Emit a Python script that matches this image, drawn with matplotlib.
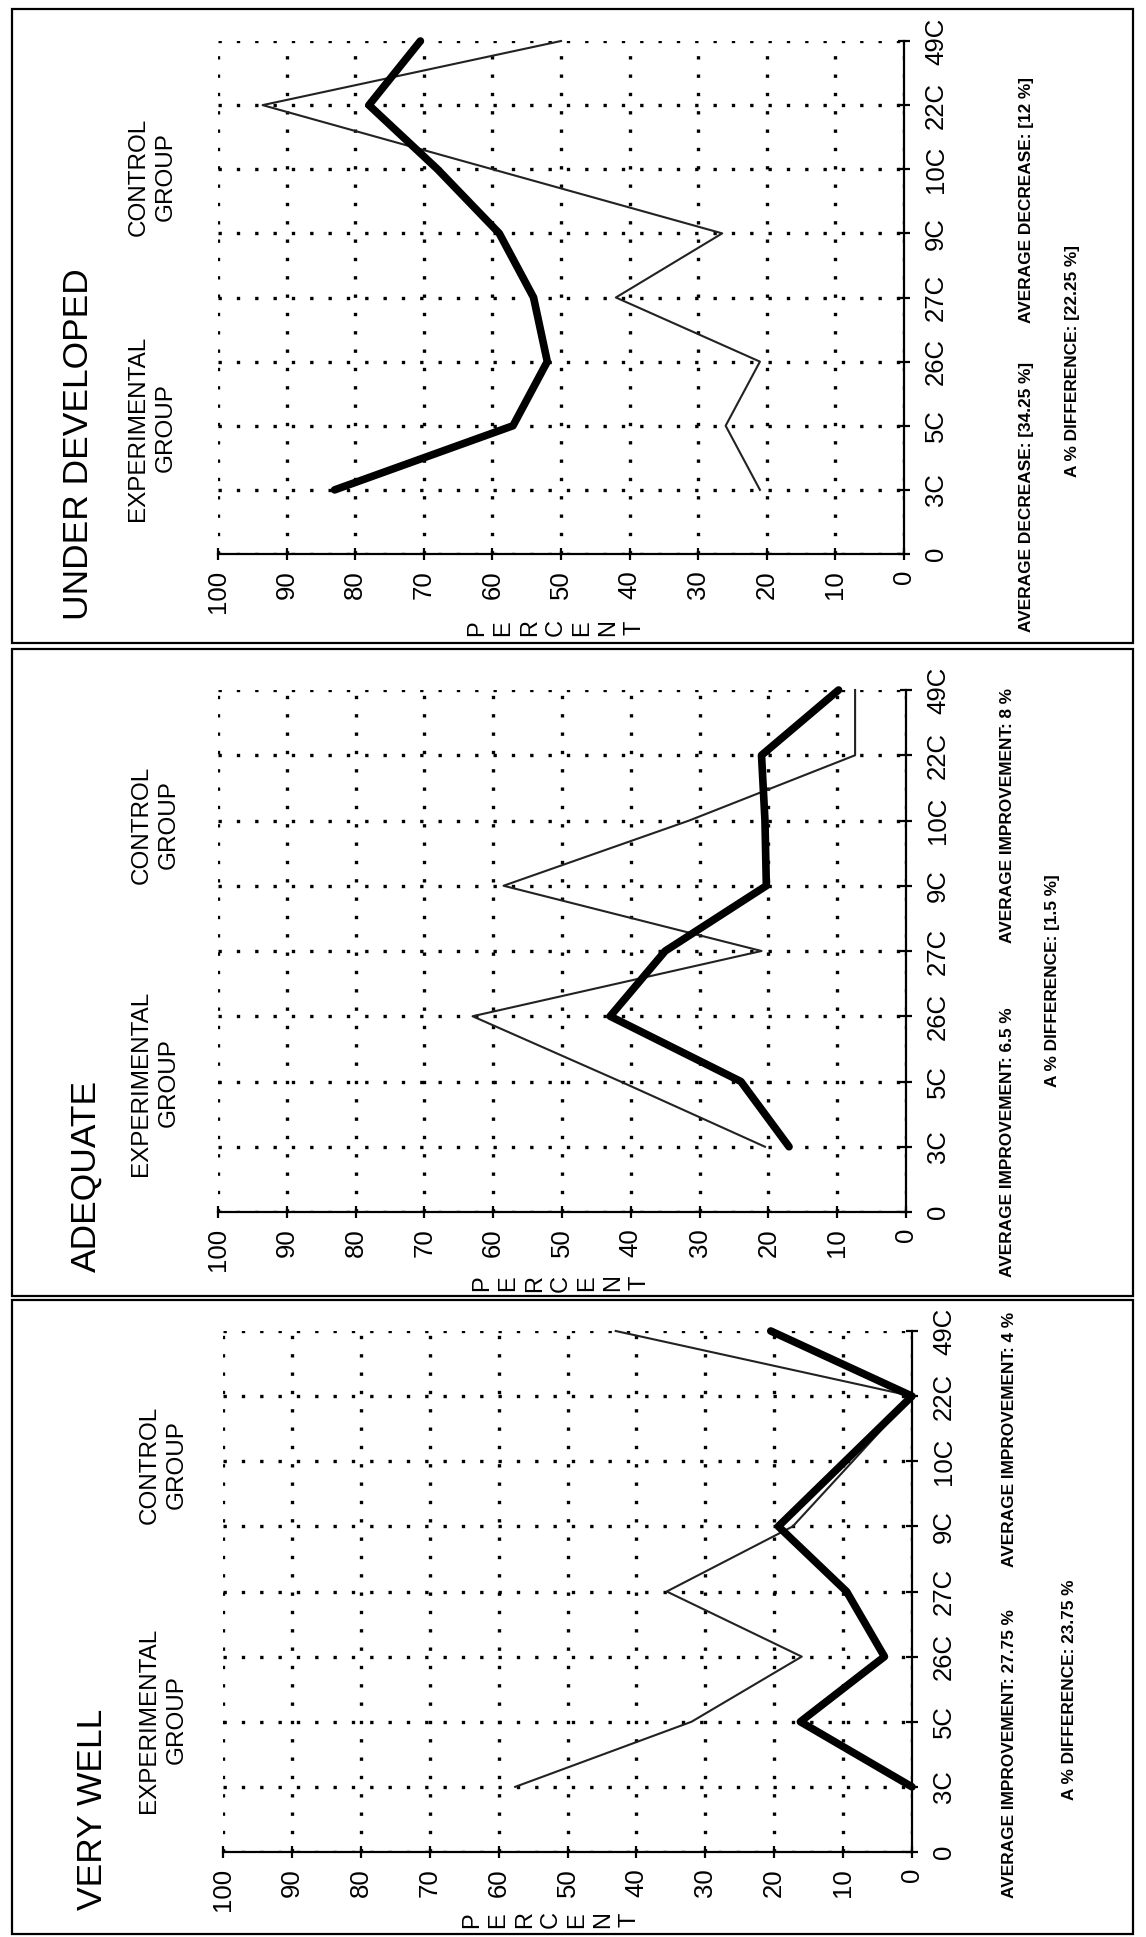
import matplotlib
matplotlib.use("Agg")
import matplotlib.pyplot as plt
from matplotlib.patches import Rectangle

W, H = 1146, 1937

# category rows (bottom to top), the "0" row is the axis itself
categories = ['3C', '5C', '26C', '27C', '9C', '10C', '22C', '49C']
percent_ticks = [0, 10, 20, 30, 40, 50, 60, 70, 80, 90, 100]

# values (percent)
under_thick = [83, 57, 52, 54, 59, 68, 78, 70.5]
under_thin = [21, 26, 21, 42, 26.5, 60, 93.5, 50]

adequate_thick = [17, 24, 43, 35, 20.3, 20.5, 21, 9.8]
adequate_thin = [20.5, 41.5, 63, 21, 58.5, 31.5, 7.4, 7.4]

verywell_thick = [0, 16.2, 4, 9.5, 19.4, 9.7, 0, 20.5]
verywell_thin = [57.6, 32, 16, 35.6, 17.3, 8.6, 0, 43]

SANS = ['Liberation Sans', 'DejaVu Sans']


def fx(x):
    return x / W


def fy(y):
    return 1 - y / H


fig = plt.figure(figsize=(W / 100, H / 100), dpi=100)
fig.patch.set_facecolor('white')

panels = [
    # frame (x0, y0, x1, y1), axes (x100, x0, ytop, ybottom)
    dict(frame=(12, 9, 1133, 643), axes=(218, 904, 41, 554),
         thick=under_thick, thin=under_thin,
         title='UNDER DEVELOPED', title_pos=(79, 620),
         exp_pos=(152, 428), ctl_pos=(152, 177), pct_pos=(556, 628),
         notes=[('AVERAGE DECREASE: [34.25 %]', 1027, 632),
                ('AVERAGE DECREASE: [12 %]', 1027, 323),
                ('A % DIFFERENCE: [22.25 %]', 1072, 477)]),
    dict(frame=(12, 649, 1133, 1296), axes=(218, 906, 690, 1212),
         thick=adequate_thick, thin=adequate_thin,
         title='ADEQUATE', title_pos=(86, 1272),
         exp_pos=(155, 1083), ctl_pos=(155, 825), pct_pos=(561, 1283),
         notes=[('AVERAGE IMPROVEMENT: 6.5 %', 1007, 1277),
                ('AVERAGE IMPROVEMENT: 8 %', 1007, 943),
                ('A % DIFFERENCE: [1.5 %]', 1053, 1087)]),
    dict(frame=(12, 1300, 1133, 1934), axes=(223, 912, 1331, 1852),
         thick=verywell_thick, thin=verywell_thin,
         title='VERY WELL', title_pos=(93, 1910),
         exp_pos=(163, 1720), ctl_pos=(163, 1465), pct_pos=(551, 1920),
         notes=[('AVERAGE IMPROVEMENT: 27.75 %', 1010, 1898),
                ('AVERAGE IMPROVEMENT: 4 %', 1010, 1567),
                ('A % DIFFERENCE: 23.75 %', 1070, 1800)]),
]

rows = list(range(1, len(categories) + 1))

for p in panels:
    x0, y0, x1, y1 = p['frame']
    fig.patches.append(Rectangle((fx(x0), fy(y1)), fx(x1) - fx(x0), fy(y0) - fy(y1),
                                 transform=fig.transFigure, fill=False,
                                 edgecolor='black', linewidth=1.6))

    a100, a0, atop, abot = p['axes']
    ax = fig.add_axes([fx(a100), fy(abot), fx(a0) - fx(a100), fy(atop) - fy(abot)])
    ax.set_facecolor('none')
    ax.set_xlim(100, 0)
    ax.set_ylim(0, 8)
    for side in ('left', 'top'):
        ax.spines[side].set_visible(False)
    for side in ('bottom', 'right'):
        ax.spines[side].set_linewidth(1.6)

    ax.set_xticks(percent_ticks)
    ax.set_xticklabels([str(t) for t in percent_ticks], rotation=90,
                       family=SANS, fontsize=18.5)
    ax.yaxis.tick_right()
    ax.set_yticks([0] + rows)
    ax.set_yticklabels(['0'] + categories, rotation=90, va='center',
                       family=SANS, fontsize=18.5)
    ax.tick_params(axis='both', direction='inout', length=9, width=1.6)
    ax.tick_params(axis='x', pad=7)
    ax.tick_params(axis='y', pad=10)

    ax.grid(True, color='black', linestyle=(0, (1, 4.5)), linewidth=2.4)
    ax.set_axisbelow(True)

    ax.plot(p['thin'], rows, color='#222222', linewidth=1.5, clip_on=False)
    ax.plot(p['thick'], rows, color='black', linewidth=5.5, clip_on=False,
            solid_capstyle='round')

    tx, ty = p['title_pos']
    fig.text(fx(tx), fy(ty), p['title'], rotation=90, ha='center', va='bottom',
             family=SANS, fontsize=25.5)
    ex, ey = p['exp_pos']
    fig.text(fx(ex), fy(ey), 'EXPERIMENTAL\nGROUP', rotation=90, ha='center',
             va='center', multialignment='center', linespacing=1.3,
             family=SANS, fontsize=17.5)
    cx, cy = p['ctl_pos']
    fig.text(fx(cx), fy(cy), 'CONTROL\nGROUP', rotation=90, ha='center',
             va='center', multialignment='center', linespacing=1.3,
             family=SANS, fontsize=17.5)
    px, py = p['pct_pos']
    fig.text(fx(px), fy(py), '\n'.join('PERCENT'), rotation=90, ha='center',
             va='center', linespacing=1.25, family=SANS, fontsize=17)
    for txt, nx, ny in p['notes']:
        fig.text(fx(nx), fy(ny), txt, rotation=90, ha='center', va='bottom',
                 family=SANS, fontsize=12.4, fontweight='bold')

fig.savefig('out.png', dpi=100)
